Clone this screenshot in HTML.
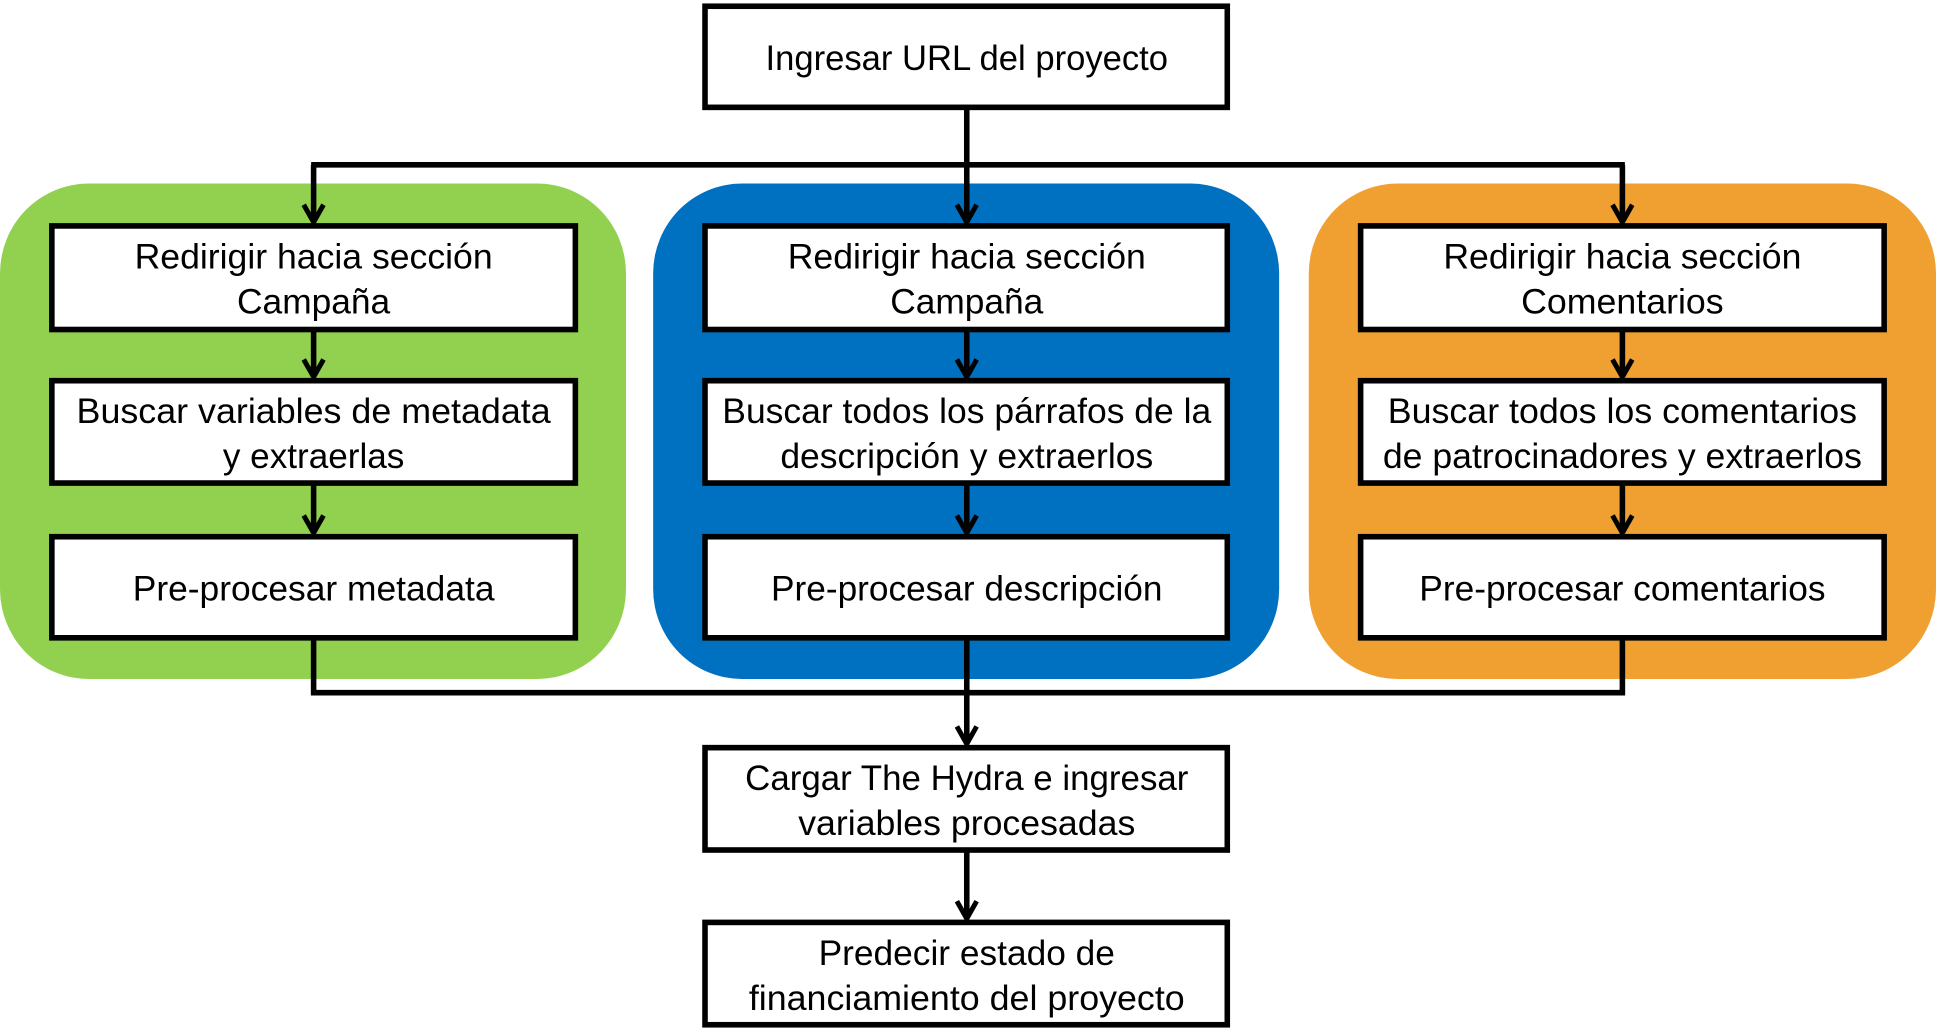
<!DOCTYPE html>
<html><head><meta charset="utf-8"><style>
html,body{margin:0;padding:0;background:#fff;width:1936px;height:1031px;overflow:hidden}
svg{display:block}
text{font-family:"Liberation Sans",sans-serif;font-size:28px;fill:#000;text-anchor:middle}
</style></head><body>
<svg width="1936" height="1031" viewBox="0 0 1568 826" preserveAspectRatio="none">
<rect x="0" y="147" width="507" height="397" rx="72" fill="#92d050"/>
<rect x="529" y="147" width="507" height="397" rx="72" fill="#0070c0"/>
<rect x="1060" y="147" width="508" height="397" rx="72" fill="#f0a030"/>
<g fill="none" stroke="#000" stroke-width="4.5">
<path d="M783 86V132M252 132H1316M254 132V178M783 132V178M1314 132V178"/>
<path d="M254 264V302M783 264V302M1314 264V302M254 387V427M783 387V427M1314 387V427"/>
<path d="M254 511V555H1314V511M783 511V596M783 681V736"/>
<g stroke-width="4">
<path d="M246 164L254 178L262 164M775 164L783 178L791 164M1306 164L1314 178L1322 164"/>
<path d="M246 288L254 302L262 288M775 288L783 302L791 288M1306 288L1314 302L1322 288"/>
<path d="M246 413L254 427L262 413M775 413L783 427L791 413M1306 413L1314 427L1322 413"/>
<path d="M775 582L783 596L791 582M775 722L783 736L791 722"/>
</g>
</g>
<g fill="#fff" stroke="#000" stroke-width="4.5">
<rect x="571" y="5" width="423" height="81"/>
<rect x="42" y="181" width="424" height="83"/><rect x="571" y="181" width="423" height="83"/><rect x="1102" y="181" width="424" height="83"/>
<rect x="42" y="305" width="424" height="82"/><rect x="571" y="305" width="423" height="82"/><rect x="1102" y="305" width="424" height="82"/>
<rect x="42" y="430" width="424" height="81"/><rect x="571" y="430" width="423" height="81"/><rect x="1102" y="430" width="424" height="81"/>
<rect x="571" y="599" width="423" height="82"/>
<rect x="571" y="739" width="423" height="82"/>
</g>
<g lengthAdjust="spacingAndGlyphs">
<text x="783" y="56" textLength="326" lengthAdjust="spacingAndGlyphs">Ingresar URL del proyecto</text>
<text x="254" y="215" textLength="290" lengthAdjust="spacingAndGlyphs">Redirigir hacia sección</text><text x="254" y="251" textLength="124" lengthAdjust="spacingAndGlyphs">Campaña</text>
<text x="783" y="215" textLength="290" lengthAdjust="spacingAndGlyphs">Redirigir hacia sección</text><text x="783" y="251" textLength="124" lengthAdjust="spacingAndGlyphs">Campaña</text>
<text x="1314" y="215" textLength="290" lengthAdjust="spacingAndGlyphs">Redirigir hacia sección</text><text x="1314" y="251" textLength="164" lengthAdjust="spacingAndGlyphs">Comentarios</text>
<text x="254" y="339" textLength="384" lengthAdjust="spacingAndGlyphs">Buscar variables de metadata</text><text x="254" y="375" textLength="147" lengthAdjust="spacingAndGlyphs">y extraerlas</text>
<text x="783" y="339" textLength="396" lengthAdjust="spacingAndGlyphs">Buscar todos los párrafos de la</text><text x="783" y="375" textLength="302" lengthAdjust="spacingAndGlyphs">descripción y extraerlos</text>
<text x="1314" y="339" textLength="380" lengthAdjust="spacingAndGlyphs">Buscar todos los comentarios</text><text x="1314" y="375" textLength="388" lengthAdjust="spacingAndGlyphs">de patrocinadores y extraerlos</text>
<text x="254" y="481" textLength="293" lengthAdjust="spacingAndGlyphs">Pre-procesar metadata</text>
<text x="783" y="481" textLength="317" lengthAdjust="spacingAndGlyphs">Pre-procesar descripción</text>
<text x="1314" y="481" textLength="329" lengthAdjust="spacingAndGlyphs">Pre-procesar comentarios</text>
<text x="783" y="633" textLength="359" lengthAdjust="spacingAndGlyphs">Cargar The Hydra e ingresar</text><text x="783" y="669" textLength="273" lengthAdjust="spacingAndGlyphs">variables procesadas</text>
<text x="783" y="773" textLength="240" lengthAdjust="spacingAndGlyphs">Predecir estado de</text><text x="783" y="809" textLength="353" lengthAdjust="spacingAndGlyphs">financiamiento del proyecto</text>
</g>
</svg>
</body></html>
